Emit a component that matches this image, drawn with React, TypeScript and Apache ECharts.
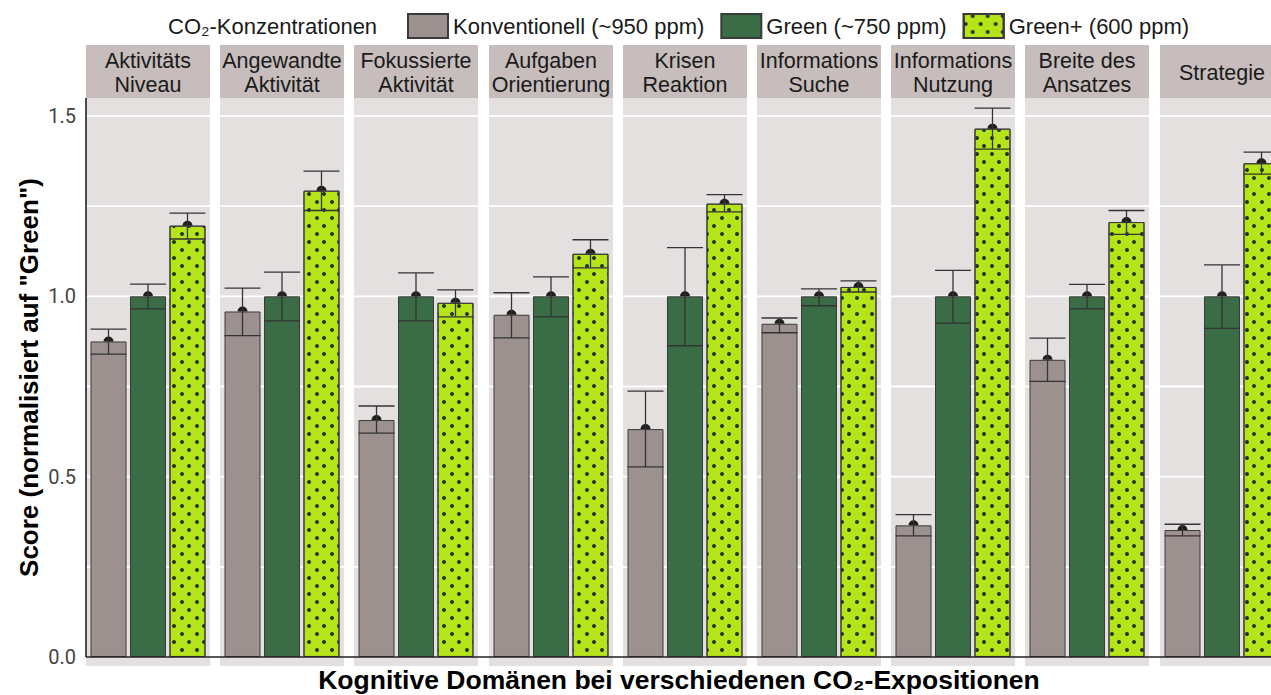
import React, { useEffect, useRef } from "react";
import * as echarts from "echarts";

// ---------- data ----------
const domains = [
  "Aktivitäts\nNiveau",
  "Angewandte\nAktivität",
  "Fokussierte\nAktivität",
  "Aufgaben\nOrientierung",
  "Krisen\nReaktion",
  "Informations\nSuche",
  "Informations\nNutzung",
  "Breite des\nAnsatzes",
  "Strategie",
];
const conditions = ["Konventionell (~950 ppm)", "Green (~750 ppm)", "Green+ (600 ppm)"];

const konvMean = [0.875, 0.958, 0.657, 0.949, 0.632, 0.924, 0.365, 0.824, 0.352];
const konvLow = [0.84, 0.891, 0.621, 0.885, 0.527, 0.899, 0.336, 0.764, 0.336];
const konvHigh = [0.909, 1.023, 0.696, 1.01, 0.737, 0.94, 0.395, 0.884, 0.368];

const greenMean = [1, 1, 1, 1, 1, 1, 1, 1, 1];
const greenLow = [0.965, 0.932, 0.932, 0.943, 0.863, 0.974, 0.926, 0.965, 0.911];
const greenHigh = [1.034, 1.067, 1.065, 1.054, 1.135, 1.021, 1.072, 1.033, 1.087];

const plusMean = [1.196, 1.293, 0.982, 1.118, 1.257, 1.026, 1.465, 1.206, 1.369];
const plusLow = [1.159, 1.238, 0.943, 1.079, 1.234, 1.012, 1.408, 1.172, 1.339];
const plusHigh = [1.231, 1.347, 1.018, 1.157, 1.282, 1.043, 1.522, 1.238, 1.4];

const gridValues = [0.25, 0.5, 0.75, 1.0, 1.25, 1.5];
const yTickValues = [0, 0.5, 1.0, 1.5];

const legendTitle = "CO₂-Konzentrationen";
const xTitle = "Kognitive Domänen bei verschiedenen CO₂-Expositionen";
const yTitle = 'Score (normalisiert auf "Green")';

// ---------- layout / style ----------
const W = 1271;
const H = 695;
const PANEL_LEFT = 86;
const PANEL_STEP = 134.2;
const PANEL_W = 124;
const PANEL_TOP = 98;
const PANEL_H = 568;
const STRIP_TOP = 45;
const STRIP_H = 53;
const Y_MIN = -0.025;
const Y_MAX = 1.55;
const X_MIN = -0.57;
const X_MAX = 2.57;
const BAR_W = 36;

const barColors = ["#9c918f", "#3a6c46", "#b6e41b"];
const panelBg = "#e5e0e0";
const stripBg = "#c6bdbc";
const errColor = "#333333";
const FONT = "'Liberation Sans', Arial, sans-serif";

const means = [konvMean, greenMean, plusMean];
const lows = [konvLow, greenLow, plusLow];
const highs = [konvHigh, greenHigh, plusHigh];

const dotDecal = {
  symbol: "circle",
  symbolSize: 1,
  color: "#22361a",
  dashArrayX: [
    [3.2, 10.3],
    [0, 6.75, 3.2, 3.55],
  ],
  dashArrayY: [3.2, 3.8],
  rotation: 0,
};

export default function App() {
  const ref = useRef<HTMLDivElement>(null);

  useEffect(() => {
    document.body.style.margin = "0";
    if (!ref.current) return;
    const chart = echarts.init(ref.current, undefined, { renderer: "svg" });

    const grids: any[] = [];
    const xAxes: any[] = [];
    const yAxes: any[] = [];
    const series: any[] = [];

    domains.forEach((d, i) => {
      grids.push({
        left: Math.round(PANEL_LEFT + i * PANEL_STEP),
        top: PANEL_TOP,
        width: PANEL_W,
        height: PANEL_H,
        show: true,
        backgroundColor: panelBg,
        borderWidth: 0,
        containLabel: false,
        outerBoundsMode: "none",
      });
      xAxes.push({
        type: "value",
        gridIndex: i,
        min: X_MIN,
        max: X_MAX,
        show: false,
      });
      yAxes.push(
        i === 0
          ? {
              type: "value",
              gridIndex: i,
              min: Y_MIN,
              max: Y_MAX,
              axisLine: { show: false },
              axisTick: { show: false },
              splitLine: { show: false },
              axisLabel: {
                customValues: yTickValues,
                formatter: (v: number) => v.toFixed(1),
                color: "#444444",
                fontSize: 20,
                fontFamily: "Roboto, sans-serif",
                margin: 10,
              },
            }
          : { type: "value", gridIndex: i, min: Y_MIN, max: Y_MAX, show: false }
      );

      // white gridlines
      series.push({
        type: "custom",
        xAxisIndex: i,
        yAxisIndex: i,
        silent: true,
        z: 1,
        data: gridValues.map((v) => [0, v]),
        renderItem: (params: any, api: any) => {
          const cs = params.coordSys;
          const y = api.coord([0, api.value(1)])[1];
          return {
            type: "line",
            shape: { x1: cs.x, y1: y, x2: cs.x + cs.width, y2: y },
            style: { stroke: "#ffffff", lineWidth: 1.8 },
          };
        },
      });

      // bars
      conditions.forEach((c, j) => {
        series.push({
          name: c,
          type: "bar",
          xAxisIndex: i,
          yAxisIndex: i,
          barWidth: BAR_W,
          barGap: "-100%",
          z: 3,
          silent: true,
          data: [[j, means[j][i]]],
          itemStyle: {
            color: barColors[j],
            borderColor: "#3a3a3a",
            borderWidth: 1,
            ...(j === 2 ? { decal: dotDecal } : {}),
          },
        });
      });

      // error bars + mean points
      series.push({
        type: "custom",
        xAxisIndex: i,
        yAxisIndex: i,
        silent: true,
        z: 5,
        data: conditions.map((_, j) => [j, means[j][i], lows[j][i], highs[j][i]]),
        renderItem: (params: any, api: any) => {
          const x = api.value(0);
          const pm = api.coord([x, api.value(1)]);
          const pl = api.coord([x, api.value(2)]);
          const ph = api.coord([x, api.value(3)]);
          const half = BAR_W / 2;
          const st = { stroke: errColor, lineWidth: 1.3 };
          return {
            type: "group",
            children: [
              {
                type: "sector",
                shape: {
                  cx: pm[0],
                  cy: pm[1],
                  r0: 0,
                  r: 5,
                  startAngle: Math.PI,
                  endAngle: Math.PI * 2,
                  clockwise: true,
                },
                style: { fill: "#1e1e1e" },
              },
              { type: "line", shape: { x1: pm[0], y1: ph[1], x2: pm[0], y2: pl[1] }, style: st },
              { type: "line", shape: { x1: pm[0] - half, y1: ph[1], x2: pm[0] + half, y2: ph[1] }, style: st },
              { type: "line", shape: { x1: pm[0] - half, y1: pl[1], x2: pm[0] + half, y2: pl[1] }, style: st },
            ],
          };
        },
      });
    });

    chart.setOption({
      animation: false,
      backgroundColor: "#ffffff",
      textStyle: { fontFamily: FONT },
      grid: grids,
      xAxis: xAxes,
      yAxis: yAxes,
      series,
      legend: {
        data: conditions,
        left: 402,
        top: 8,
        itemWidth: 40,
        itemHeight: 24,
        itemGap: 16,
        icon: "rect",
        selectedMode: false,
        textStyle: { fontSize: 22, color: "#1a1a1a", fontFamily: FONT },
      },
    });

    const y0 = chart.convertToPixel({ yAxisIndex: 0 } as any, 0) as number;
    const yTop = chart.convertToPixel({ yAxisIndex: 0 } as any, Y_MAX) as number;

    const graphics: any[] = [];
    domains.forEach((d, i) => {
      const left = Math.round(PANEL_LEFT + i * PANEL_STEP);
      graphics.push({
        type: "rect",
        shape: { x: left, y: STRIP_TOP, width: PANEL_W, height: STRIP_H },
        style: { fill: stripBg },
        silent: true,
      });
      graphics.push({
        type: "text",
        x: left + PANEL_W / 2,
        y: STRIP_TOP + STRIP_H / 2 + 1,
        style: {
          text: d,
          align: "center",
          verticalAlign: "middle",
          fontSize: 21.5,
          lineHeight: 24,
          fontFamily: FONT,
          fill: "#1a1a1a",
        },
        silent: true,
      });
    });
    graphics.push({
      type: "text",
      x: 168,
      y: 26,
      style: {
        text: legendTitle,
        align: "left",
        verticalAlign: "middle",
        fontSize: 22,
        fontFamily: FONT,
        fill: "#1a1a1a",
      },
    });
    graphics.push({
      type: "text",
      x: 679,
      y: 680,
      style: {
        text: xTitle,
        align: "center",
        verticalAlign: "middle",
        fontSize: 26.5,
        fontWeight: "bold",
        fontFamily: FONT,
        fill: "#000000",
      },
    });
    graphics.push({
      type: "text",
      x: 29,
      y: (yTop + y0) / 2,
      rotation: Math.PI / 2,
      style: {
        text: yTitle,
        align: "center",
        verticalAlign: "middle",
        fontSize: 26,
        fontWeight: "bold",
        fontFamily: FONT,
        fill: "#000000",
      },
    });
    // axis lines
    graphics.push({
      type: "line",
      shape: { x1: PANEL_LEFT, y1: y0, x2: W, y2: y0 },
      style: { stroke: "#222222", lineWidth: 1.6 },
      z: 100,
    });
    graphics.push({
      type: "line",
      shape: { x1: PANEL_LEFT, y1: PANEL_TOP, x2: PANEL_LEFT, y2: y0 },
      style: { stroke: "#222222", lineWidth: 1.6 },
      z: 100,
    });

    chart.setOption({ graphic: graphics });

    return () => {
      chart.dispose();
    };
  }, []);

  return <div ref={ref} style={{ width: W, height: H }} />;
}
